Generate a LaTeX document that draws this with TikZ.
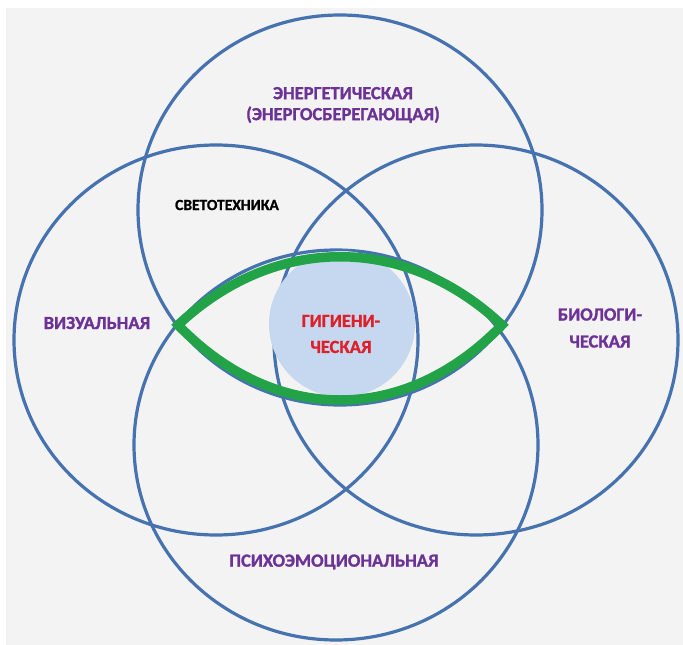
\documentclass[tikz,border=0pt]{standalone}
\usepackage{fontspec}
\setmainfont{Carlito}[BoldFeatures={FakeBold=1.2}]
\definecolor{ringblue}{RGB}{70,115,175}
\definecolor{eyegreen}{RGB}{34,163,72}
\definecolor{diskblue}{RGB}{198,216,239}
\definecolor{labelpurple}{RGB}{108,50,150}
\definecolor{labelred}{RGB}{222,32,42}
\definecolor{bggray}{RGB}{243,243,243}
\tikzset{
  ring/.style={draw=ringblue, line width=3.2pt},
  lbl/.style={font=\bfseries\fontsize{18.5}{21}\selectfont, text=labelpurple, align=center, inner sep=0pt},
}
\begin{document}
\begin{tikzpicture}[x=1pt,y=-1pt]
\useasboundingbox (0,0) rectangle (683,645);
\fill[white] (0,0) rectangle (683,645);
\fill[bggray] (6,8) rectangle (683,645);
% four rings
\draw[ring] (340,210) ellipse [x radius=202, y radius=195];
\draw[ring] (216,340) ellipse [x radius=202, y radius=195];
\draw[ring] (476,340) ellipse [x radius=202, y radius=195];
\draw[ring] (336,445) ellipse [x radius=202, y radius=195];
% central disk
\fill[diskblue] (342,324) circle [radius=73];
% eye
\coordinate (eyeL) at (178,325);
\coordinate (eyeR) at (502,325);
\draw[eyegreen, line width=9.5pt, line join=miter]
  (eyeL) .. controls (275,234) and (405,234) .. (eyeR)
         .. controls (405,425) and (275,425) .. cycle;
% labels
\node[lbl] (energ) at (343,105) {ЭНЕРГЕТИЧЕСКАЯ\\(ЭНЕРГОСБЕРЕГАЮЩАЯ)};
\node[lbl, text=black, font=\bfseries\fontsize{15.5}{16}\selectfont] (svet) at (227,205) {СВЕТОТЕХНИКА};
\node[lbl] (vis) at (97,323) {ВИЗУАЛЬНАЯ};
\node[lbl, font=\bfseries\fontsize{18.5}{27}\selectfont] (bio) at (600,328) {БИОЛОГИ-\\ЧЕСКАЯ};
\node[lbl, text=labelred, font=\bfseries\fontsize{18.5}{26}\selectfont] (hyg) at (341,334) {ГИГИЕНИ-\\ЧЕСКАЯ};
\node[lbl] (psy) at (334,562) {ПСИХОЭМОЦИОНАЛЬНАЯ};
\end{tikzpicture}
\end{document}
